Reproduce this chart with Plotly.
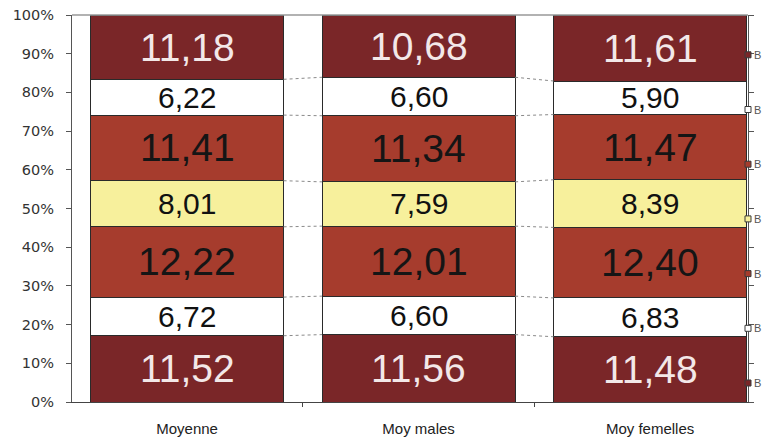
import plotly.graph_objects as go

categories = ["Moyenne", "Moy males", "Moy femelles"]
series_names = ["B1", "B2", "B3", "B4", "B5", "B6", "B7"]
# bottom to top
series_values = [
    [11.52, 11.56, 11.48],
    [6.72, 6.60, 6.83],
    [12.22, 12.01, 12.40],
    [8.01, 7.59, 8.39],
    [11.41, 11.34, 11.47],
    [6.22, 6.60, 5.90],
    [11.18, 10.68, 11.61],
]
y_tick_values = [0, 10, 20, 30, 40, 50, 60, 70, 80, 90, 100]
y_tick_labels = [f"{v}%" for v in y_tick_values]

colors = ["#7a2628", "#ffffff", "#a63c2d", "#f7f09c", "#a63c2d", "#ffffff", "#7a2628"]
text_colors = ["#f3e8e8", "#111111", "#151515", "#111111", "#151515", "#111111", "#f3e8e8"]
text_sizes = [39, 30, 39, 30, 39, 30, 39]

BAR_W = 0.834
xs = list(range(len(categories)))
totals = [sum(s[i] for s in series_values) for i in xs]
pcts = [[s[i] / totals[i] * 100 for i in xs] for s in series_values]

fig = go.Figure()
for k, name in enumerate(series_names):
    fig.add_trace(go.Bar(
        x=xs, y=series_values[k], name=name, width=BAR_W,
        marker=dict(color=colors[k], line=dict(color="#2a2a2a", width=1)),
        showlegend=False, hoverinfo="skip",
    ))

# cumulative boundaries
cum = []
for i in xs:
    acc = 0
    col = []
    for k in range(len(series_names)):
        acc += pcts[k][i]
        col.append(acc)
    cum.append(col)

# series lines between bars
for k in range(len(series_names) - 1):
    for i in range(len(xs) - 1):
        fig.add_trace(go.Scatter(
            x=[xs[i] + BAR_W / 2, xs[i + 1] - BAR_W / 2],
            y=[cum[i][k], cum[i + 1][k]],
            mode="lines", line=dict(color="#8a8a8a", width=1, dash="dot"),
            showlegend=False, hoverinfo="skip",
        ))

annotations = []
for k in range(len(series_names)):
    for i in xs:
        mid = cum[i][k] - pcts[k][i] / 2
        annotations.append(dict(
            x=xs[i], y=mid, xref="x", yref="y",
            text=f"{series_values[k][i]:.2f}".replace(".", ","),
            showarrow=False,
            font=dict(family="Liberation Sans, Arial, sans-serif",
                      size=text_sizes[k], color=text_colors[k]),
        ))

# clipped legend at right edge
shapes = []
plot_top, plot_bot, plot_left, plot_right = 15, 402, 72, 748
pw = plot_right - plot_left
ph = plot_bot - plot_top
for k in range(len(series_names)):
    yc = 383 - k * 54.7
    yp = (plot_bot - yc) / ph
    shapes.append(dict(
        type="rect", xref="paper", yref="paper",
        x0=(745 - plot_left) / pw, x1=(751 - plot_left) / pw,
        y0=yp - 3 / ph, y1=yp + 3 / ph,
        fillcolor=colors[k], line=dict(color="#3a3a3a", width=1),
    ))
    annotations.append(dict(
        x=(752 - plot_left) / pw, y=yp, xref="paper", yref="paper",
        xanchor="left", yanchor="middle", text="B", showarrow=False,
        font=dict(family="Liberation Sans, Arial, sans-serif", size=11, color="#555555"),
    ))

fig.update_layout(
    barmode="stack", barnorm="percent",
    width=763, height=438,
    margin=dict(l=plot_left, r=763 - plot_right, t=plot_top, b=438 - plot_bot, autoexpand=False),
    paper_bgcolor="white", plot_bgcolor="white",
    annotations=annotations, shapes=shapes,
    xaxis=dict(
        range=[-0.497, 2.423], tickvals=xs, ticktext=categories,
        showgrid=False, zeroline=False, showline=True, linecolor="#444444", linewidth=1,
        ticks="", ticklabelstandoff=13, automargin=False,
        tickfont=dict(family="Liberation Sans, Arial, sans-serif", size=15, color="#222222"),
        minor=dict(tickvals=[0.5, 1.5], ticks="outside", ticklen=4, tickcolor="#444444"),
    ),
    yaxis=dict(
        range=[0, 100], tickvals=y_tick_values, ticktext=y_tick_labels,
        showgrid=False, zeroline=False, showline=True, linecolor="#555555", linewidth=1,
        mirror="ticks", ticks="outside", ticklen=5, tickcolor="#555555",
        ticklabelstandoff=9, automargin=False,
        tickfont=dict(family="DejaVu Sans, Verdana, sans-serif", size=14.5, color="#333333"),
    ),
)
fig.add_shape(type="line", xref="paper", yref="paper", x0=0, x1=1, y0=1, y1=1,
              line=dict(color="#999999", width=1.5))

fig.write_html("out.html")
